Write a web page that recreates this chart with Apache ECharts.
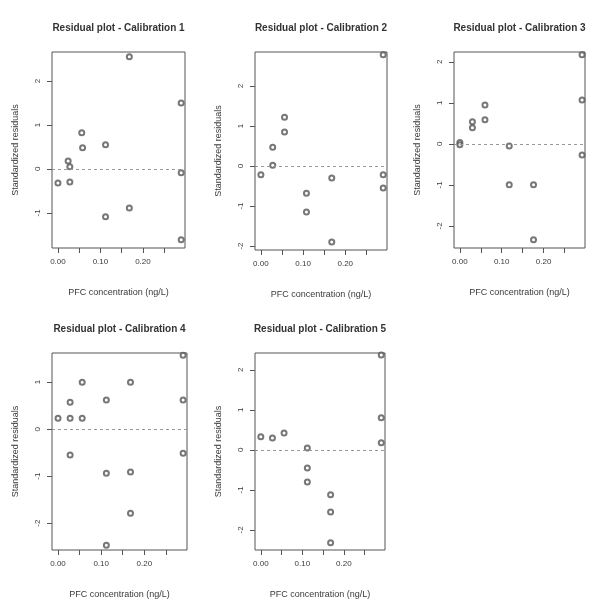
<!DOCTYPE html>
<html>
<head>
<meta charset="utf-8">
<script src="https://cdn.jsdelivr.net/npm/echarts@6/dist/echarts.min.js"></script>
<style>html,body{margin:0;padding:0;background:#fff}#c{width:601px;height:600px}</style>
</head>
<body>
<div id="c"></div>
<script>
// ---- data ----
const titles = ["Residual plot - Calibration 1","Residual plot - Calibration 2","Residual plot - Calibration 3","Residual plot - Calibration 4","Residual plot - Calibration 5"];
const xName = "PFC concentration (ng/L)";
const yName = "Standardized residuals";
const xTickValues = [0, 0.05, 0.10, 0.15, 0.20, 0.25];
const xLabelValues = [0, 0.10, 0.20];

const cal1X = [0.000, 0.028, 0.024, 0.028, 0.056, 0.058, 0.112, 0.112, 0.168, 0.168, 0.290, 0.290, 0.290];
const cal1Y = [-0.32, -0.30, 0.18, 0.05, 0.82, 0.48, 0.55, -1.09, -0.89, 2.55, 1.50, -0.09, -1.61];

const cal2X = [0.000, 0.028, 0.028, 0.056, 0.056, 0.108, 0.108, 0.168, 0.168, 0.290, 0.290, 0.290];
const cal2Y = [-0.22, 0.47, 0.02, 1.22, 0.85, -0.68, -1.15, -0.30, -1.90, 2.78, -0.22, -0.55];

const cal3X = [0.000, 0.000, 0.030, 0.030, 0.060, 0.060, 0.118, 0.118, 0.176, 0.176, 0.292, 0.292, 0.292];
const cal3Y = [0.03, -0.02, 0.54, 0.39, 0.95, 0.59, -0.05, -1.00, -1.00, -2.34, 2.17, 1.07, -0.27];

const cal4X = [0.000, 0.028, 0.056, 0.028, 0.056, 0.028, 0.112, 0.112, 0.112, 0.168, 0.168, 0.168, 0.290, 0.290, 0.290];
const cal4Y = [0.23, 0.23, 0.23, 0.57, 1.00, -0.55, 0.62, -0.94, -2.47, 1.00, -0.91, -1.79, 0.62, -0.51, 1.57];

const cal5X = [0.000, 0.028, 0.056, 0.112, 0.112, 0.112, 0.168, 0.168, 0.168, 0.290, 0.290, 0.290];
const cal5Y = [0.33, 0.30, 0.42, 0.05, -0.45, -0.80, -1.12, -1.55, -2.32, 2.37, 0.80, 0.18];

const yTicks1 = [-1, 0, 1, 2];
const yTicks2 = [-2, -1, 0, 1, 2];
const yTicks3 = [-2, -1, 0, 1, 2];
const yTicks4 = [-2, -1, 0, 1];
const yTicks5 = [-2, -1, 0, 1, 2];

const yRanges = [[-1.80, 2.66], [-2.10, 2.85], [-2.54, 2.24], [-2.57, 1.62], [-2.50, 2.42]];
const xRange = [-0.014, 0.299];

// ---- layout ----
const grids = [
  {left: 52, top: 52, width: 133, height: 196},
  {left: 255, top: 52, width: 132, height: 198},
  {left: 454, top: 52, width: 131, height: 196},
  {left: 52, top: 353, width: 135, height: 197},
  {left: 255, top: 353, width: 130, height: 197}
];
const xs = [cal1X, cal2X, cal3X, cal4X, cal5X];
const ys = [cal1Y, cal2Y, cal3Y, cal4Y, cal5Y];
const yTicks = [yTicks1, yTicks2, yTicks3, yTicks4, yTicks5];

const FONT = "'Liberation Sans', Arial, sans-serif";
const TXT = '#3a3a3a';

const option = {
  animation: false,
  backgroundColor: '#fff',
  grid: grids.map(g => Object.assign({show: true, borderColor: '#555', borderWidth: 1, backgroundColor: 'transparent'}, g)),
  xAxis: grids.map((g, i) => ({
    type: 'value', gridIndex: i, min: xRange[0], max: xRange[1], position: 'bottom',
    splitLine: {show: false},
    axisLine: {show: false, onZero: false},
    axisTick: {show: true, inside: false, length: 5, customValues: xTickValues, lineStyle: {color: '#555'}},
    axisLabel: {show: true, customValues: xLabelValues, margin: 10, fontSize: 8, color: TXT, fontFamily: FONT,
      formatter: v => v.toFixed(2)},
    name: xName, nameLocation: 'middle', nameGap: 40,
    nameTextStyle: {fontSize: 9, color: TXT, fontFamily: FONT}
  })),
  yAxis: grids.map((g, i) => ({
    type: 'value', gridIndex: i, min: yRanges[i][0], max: yRanges[i][1], position: 'left',
    splitLine: {show: false},
    axisLine: {show: false, onZero: false},
    axisTick: {show: true, inside: false, length: 5, customValues: yTicks[i], lineStyle: {color: '#555'}},
    axisLabel: {show: true, customValues: yTicks[i], rotate: 90, margin: 10, fontSize: 8, color: TXT, fontFamily: FONT,
      formatter: v => String(v)},
    name: yName, nameLocation: 'middle', nameGap: 32,
    nameTextStyle: {fontSize: 9, color: TXT, fontFamily: FONT}
  })),
  series: grids.map((g, i) => ({
    type: 'scatter', xAxisIndex: i, yAxisIndex: i,
    symbol: 'emptyCircle', symbolSize: 5,
    itemStyle: {color: '#555', borderColor: '#555', borderWidth: 1},
    data: xs[i].map((x, k) => [x, ys[i][k]]),
    markLine: {
      silent: true, symbol: 'none', label: {show: false},
      lineStyle: {type: [3, 3], color: '#999', width: 1},
      data: [{yAxis: 0}]
    }
  })),
  graphic: grids.map((g, i) => ({
    type: 'text', x: g.left + g.width / 2, y: g.top - 24,
    style: {text: titles[i], font: 'bold 10px ' + FONT, fill: '#333', textAlign: 'center', textVerticalAlign: 'middle'}
  }))
};

const chart = echarts.init(document.getElementById('c'), null, {renderer: 'canvas'});
chart.setOption(option);
</script>
</body>
</html>
